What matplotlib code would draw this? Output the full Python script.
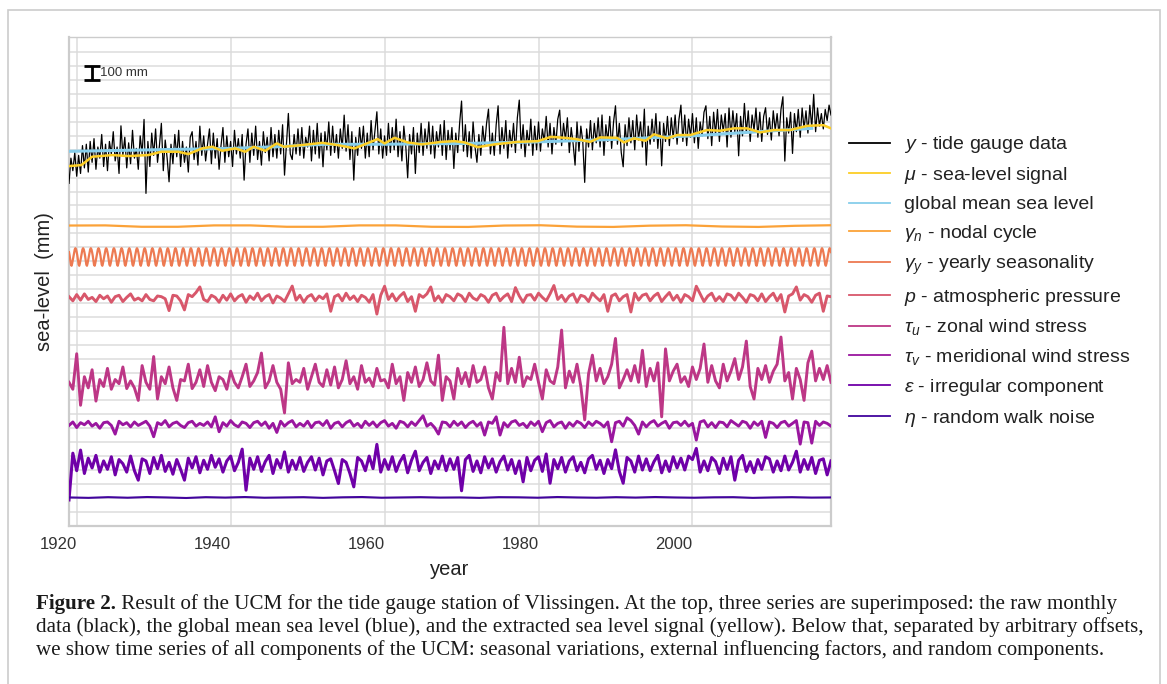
import numpy as np
import matplotlib
matplotlib.use('Agg')
import matplotlib.pyplot as plt
from matplotlib.lines import Line2D
from matplotlib.patches import Rectangle

plt.rcParams['font.family'] = ['Liberation Sans', 'DejaVu Sans']
plt.rcParams['mathtext.fontset'] = 'custom'
plt.rcParams['mathtext.rm'] = 'Liberation Sans'
plt.rcParams['mathtext.it'] = 'Liberation Sans:italic'

# ---- data (mm) ----
start_year = 1919

# y - tide gauge, quarterly, one row per year
tide_gauge = [
    -241, -60, -150, -20,   -190, -40, -170, 30,   -130, 40, -160, 60,   -90, 80, -140, 20,   -60, 110, -120, 40,
    -150, 60, -30, 130,   -80, 20, -170, 172,   -40, 90, -130, 50,   -100, 140, -60, 10,   -140, 100, -30, 218,
    -313, 60, -120, 120,   -40, 150, -90, 30,   190, -150, 70, -60,   -230, 40, -100, 110,   -50, 140, -120, 60,
    -90, 20, -160, 90,   130, -70, 60, -110,   170, -40, 100, -80,   40, 150, -100, 120,   -60, 80, -140, 30,
    160, -90, 100, -50,   60, -120, 140, -30,   80, -60, 110, -218,   40, 150, -90, 120,   -40, 170, -70, 60,
    -110, 130, -20, 90,   -80, 160, -50, 110,   -60, 140, -30, 180,   -182, 40, 261, -30,   -70, 110, -30, 150,
    -40, 160, -60, 90,   20, 170, -80, 140,   -30, 190, -60, 120,   -122, 130, 0, 200,   -40, 170, -20, 110,
    -60, 150, 10, 249,   -10, 180, -70, 130,   -218, 90, -40, 160,   10, 170, -60, 120,   -50, 210, 0, 140,
    273, -30, 150, -60,   100, -40, 190, -20,   160, 0, 220, -50,   130, -80, 170, 30,   -201, 110, -30, 160,
    -170, 120, -20, 190,   -40, 150, 10, 200,   -30, 170, -60, 130,   20, 180, -40, 210,   -70, 140, 0, 160,
    -134, 120, -20, 190,   350, -10, 180, -50,   130, -60, 200, 20,   -90, 110, -40, 170,   30, 190, 292, -30,
    120, -40, 180, 316,   -30, 160, 10, 210,   -60, 140, 20, 190,   -20, 230, 357, 10,   180, -50, 140, 30,
    220, -40, 170, 0,   200, -10, 150, 60,   240, 20, 190, -30,   160, 40, 220, 285,   30, 190, 70, 230,
    -20, 160, 40, -110,   200, -10, 170, 60,   -234, 150, 20, 210,   0, 190, 50, 230,   20, 250, -40, 180,
    60, 240, 10, 200,   316, 40, 190, -20,   -122, 180, 30, 230,   50, 210, 0, 250,   70, 200, 20, 292,
    -110, 170, 40, 220,   60, 260, 10, 200,   -115, 190, 60, 240,   30, 230, 80, 250,   40, 220, 321, 60,
    250, 30, 220, 90,   260, 50, 230, 10,   200, 100, 270, 316,   80, 240, 30, 270,   110, 290, 60, 250,
    130, 260, 20, 300,   90, 280, 130, 260,   -43, 240, 100, 333,   120, 280, 60, 250,   140, 300, 90, 270,
    60, 240, 302, 110,   230, 70, 280, 140,   260, 100, 290, 381,   -81, 230, 120, 270,   -26, 260, 130, 290,
    90, 300, 150, 280,   120, 320, 160, 398,   130, 300, 170, 260,   150, 290, 210, 321,   250,
]

# mu - sea-level signal
signal_year = [1919.0, 1920.6, 1922.0, 1924.6, 1926.7, 1929.3, 1931.0, 1933.2, 1934.5, 1936.3,
               1937.6, 1938.9, 1940.6, 1941.9, 1943.0, 1944.5, 1946.0, 1946.9, 1949.3, 1951.9,
               1953.9, 1956.1, 1959.1, 1960.0, 1961.3, 1963.0, 1964.8, 1967.4, 1969.1, 1970.4,
               1972.1, 1974.3, 1977.3, 1979.9, 1981.6, 1983.4, 1984.9, 1986.7, 1988.0, 1990.2,
               1991.1, 1992.4, 1993.9, 1995.0, 1996.7, 1998.0, 1999.7, 2001.9, 2003.6, 2005.4,
               2007.1, 2008.8, 2010.6, 2012.7, 2014.9, 2017.0, 2018.0]
signal_mm = [-117, -110, -50, -38, -45, -38, -14, -14, -31, 10,
             22, -7, 10, -14, 22, -7, 46, 22, 34, 50,
             34, 10, 77, 46, 86, 53, 39, 57, 62, 53,
             19, 39, 57, 62, 93, 86, 77, 57, 89, 86,
             53, 82, 65, 111, 82, 106, 106, 142, 137, 154,
             154, 125, 142, 142, 172, 177, 154]

# global mean sea level
gmsl_year = [1919, 1930, 1940, 1946, 1952, 1960, 1970, 1980, 1990, 2000, 2010, 2015.5]
gmsl_mm = [-11, 0, 10, 22, 39, 40, 45, 57, 75, 100, 135, 154]

# gamma_n - nodal cycle (evenly spaced over the record)
nodal_mm = [4, 5, -5, -5, 5, 5, -5, -5, 5, 5, -5, -6, 4, 6, -4, -6, 3, 6, -3, -6, 2, 6]

# gamma_y - yearly seasonality, one monthly cycle (Jan..Dec)
season_cycle = [35, 10, -25, -55, -63, -45, -20, 5, 30, 55, 63, 55]
n_years = 99

# p - atmospheric pressure, half-yearly, rows of 5 years
pressure = [
    10, -20, 25, -15, 30, -10, 5, -25, 20, -5,
    15, -30, 10, 20, -25, 5, 30, -15, 0, -20,
    25, -10, -20, 15, 10, -5, -90, 20, 15, -20,
    -85, 25, 10, 40, 80, -10, -25, 20, 5, -30,
    20, -15, 30, -20, 10, 25, -30, 15, -10, 35,
    -20, 10, 25, -35, 15, 0, -25, 30, 86, -15,
    20, -30, 10, 25, -20, 15, -5, 30, -95, 10,
    25, -20, 35, -10, 15, -25, 20, 5, -30, 25,
    -115, 20, 85, -10, 30, -20, 15, 40, -25, 10,
    -95, 25, 5, 30, 80, -20, 15, -30, 25, 10,
    -20, 30, 15, -25, 35, 0, -15, 25, 10, -30,
    20, 35, -20, 10, 30, -25, 75, 15, -30, 20,
    25, -15, 35, 5, -20, 30, 90, -10, 20, -25,
    15, 30, -30, 20, 10, -25, 35, 5, -20, 25,
    -95, 15, 30, -20, 10, 25, -100, 35, -15, 20,
    30, -20, 15, 35, -25, 10, 40, -15, 20, -30,
    25, 10, -20, 85, 30, -25, 15, 35, -20, 10,
    -25, 30, 20, -15, 35, 5, -30, 25, 15, -20,
    30, -25, 10, 35, -20, 25, -100, 15, 30, 80,
    -15, 25, 10, -30, 20, 35, -95, 15, 10,
]

# tau_u - zonal wind stress
zonal = [
    20, -30, 225, -145, 60, -20, 110, -115, 40, -10,
    120, -30, 40, 10, 130, -25, 30, -20, -110, 140,
    20, -30, 205, -100, 60, 10, 130, -20, -110, 40,
    30, 150, -25, 20, 110, -10, 140, 20, -40, 60,
    40, -30, 100, 20, -20, 60, 150, -10, 30, 90,
    230, -20, 30, 140, 20, -30, -200, 160, 10, 40,
    20, 120, -30, 60, 150, 20, -10, 110, 0, 130,
    -20, 40, 175, 10, 60, -30, 140, 20, 50, -10,
    120, 30, 40, -20, 150, 10, 60, -110, 90, 20,
    130, -10, 40, 160, 30, 0, 215, -110, 60, 30,
    -100, 120, 10, 90, -10, 140, 20, 40, 130, -20,
    -100, 90, 30, 415, 10, 120, 20, 200, -10, 60,
    40, 150, 20, -100, 110, 30, 10, 130, 395, -20,
    100, 20, 150, -10, -250, 80, 215, 30, 120, 10,
    60, 150, 335, -20, 40, 110, 30, 140, 20, 250,
    -10, 120, 30, 160, -228, 260, 30, 100, 150, 20,
    60, -10, 130, 40, 120, 295, 20, 140, 30, -20,
    150, 30, 100, 190, 40, 130, 316, -10, -100, 120,
    40, 140, 20, 100, 150, 345, 30, 90, -100, 120,
    40, -110, 160, 244, 30, 120, 40, 140, 20,
]

# tau_v - meridional wind stress
meridional = [
    -10, 15, -25, 10, -5, 20, -15, 5, -30, 10,
    15, -10, -72, 20, -5, 10, -20, 15, -10, 5,
    20, -15, -91, 10, -5, 25, -20, 5, 15, -10,
    -25, 10, 20, -15, 5, -10, 15, -20, 52, -55,
    10, -15, 25, -5, -20, 15, 5, -25, 10, 20,
    -10, 15, -30, 5, -60, 20, -15, 10, 25, -20,
    5, -15, 20, -25, 10, 15, -10, 25, -30, 5,
    15, -20, 10, 25, -15, 5, -25, 20, -10, 15,
    -20, 10, 25, -15, 5, -30, 20, 10, -20, 15,
    -10, 25, 60, -15, 5, -25, -72, 15, 10, -20,
    20, -10, 15, -25, 5, 20, -15, 10, -79, 15,
    5, 52, -79, 10, -20, 15, 25, -10, 5, -25,
    15, -10, 20, -55, 10, 25, -20, 5, 15, -30,
    10, -15, 20, 5, -25, 15, -10, 20, 5, -20,
    15, -127, 10, 20, -15, 45, 25, -10, -72, 15,
    -20, 10, 25, -15, 5, 20, -30, 10, 15, -10,
    20, -15, 5, -115, 15, 25, -20, 10, -25, 15,
    10, -20, 25, 5, -15, 20, 10, -30, 15, -10,
    20, -96, 15, 5, -25, 10, 20, -15, 5, 25,
    -144, 15, 10, -137, 20, -10, 15, 5, -15,
]

# epsilon - irregular component
irregular = [
    -250, 86, -40, 108, -60, 50, -20, 70, -50, 30,
    -30, 60, -70, 40, 10, -50, 65, -40, -108, 45,
    30, -60, 55, -25, 70, -45, 20, -65, 40, -30,
    -108, 50, -20, 60, -55, 35, -30, 70, -15, 45,
    -50, 30, 65, -40, 20, 115, -180, 50, -30, 60,
    -45, 25, 70, -60, 40, -20, 95, -50, 35, -30,
    55, -45, 20, 60, -35, 50, -70, 30, 45, -40,
    -132, 40, 20, -60, -156, 55, 30, -40, 65, -25,
    149, -50, 40, -30, 60, -45, 25, 70, -55, 35,
    100, -40, 20, 55, -60, 30, -25, 65, -40, 45,
    -30, 55, -184, 40, 70, -45, 30, -55, 60, -20,
    45, -50, 25, 65, -35, 40, -60, 30, -120, 55,
    -40, 35, 60, -45, 80, -130, 40, -25, 55, -50,
    30, 60, -40, 20, -55, 45, 70, -30, 35, -60,
    40, -25, 110, -45, -130, 55, 30, -50, 65, -35,
    45, -40, 25, 70, -55, 30, -45, 60, -20, 50,
    -35, 65, 40, 120, -50, 30, -40, 55, 25, -60,
    50, -30, 60, -108, 35, 70, -45, 25, -55, 40,
    -30, 60, 45, -50, 30, -40, 65, -35, 20, 100,
    -50, 40, -30, 55, -60, 35, 45, -70, 30,
]

# eta - random walk noise (evenly spaced over the record)
random_walk = [0, -3, 2, -2, 3, 0, -4, 2, -1, 3, -2, 0, 2, -3, 1, 3, -2, 0, 2, -1,
               0, -3, 2, 1, -2, 3, 0, -2, 2, -1, 3, 0, -2, 1, 2, -3, 0, 2, -1, 0]

# arbitrary vertical offsets of each group (mm)
offsets = {'top': 2600, 'nodal': 2052, 'yearly': 1830, 'p': 1535,
           'tu': 910, 'tv': 630, 'eps': 335, 'eta': 103}

caption_bold = 'Figure 2.'
caption = [
    ' Result of the UCM for the tide gauge station of Vlissingen. At the top, three series are superimposed: the raw monthly',
    'data (black), the global mean sea level (blue), and the extracted sea level signal (yellow). Below that, separated by arbitrary offsets,',
    'we show time series of all components of the UCM: seasonal variations, external influencing factors, and random components.',
]

# ---- figure ----
W, H = 1167, 684
fig = plt.figure(figsize=(W / 100, H / 100), dpi=100)
ax = fig.add_axes([69 / W, 1 - 525.7 / H, 762 / W, 488.4 / H])

pal = plt.cm.plasma(np.linspace(0.9, 0.1, 8))
c_mu, c_nod, c_yr, c_p, c_tu, c_tv, c_eps, c_eta = pal
c_gmsl = '#87ceeb'

t_q = start_year + 0.25 * np.arange(len(tide_gauge))
t_h = start_year + 0.5 * np.arange(len(pressure))
t_m = start_year + np.arange(12 * n_years + 1) / 12.0
season = np.append(np.tile(season_cycle, n_years), season_cycle[0])

top = offsets['top']
ax.plot(t_q, np.array(tide_gauge) + top, color='black', lw=0.9, zorder=3)
ax.plot(gmsl_year, np.array(gmsl_mm) + top, color=c_gmsl, lw=2.2, zorder=4)
ax.plot(signal_year, np.array(signal_mm) + top, color=c_mu, lw=1.8, zorder=5)
ax.plot(np.linspace(1919, 2018, len(nodal_mm)), np.array(nodal_mm) + offsets['nodal'],
        color=c_nod, lw=1.6, zorder=3)
ax.plot(t_m, season + offsets['yearly'], color=c_yr, lw=1.6, zorder=3)
ax.plot(t_h, np.array(pressure) + offsets['p'], color=c_p, lw=2.1, zorder=3)
ax.plot(start_year + 0.5 * np.arange(len(zonal)), np.array(zonal) + offsets['tu'],
        color=c_tu, lw=2.1, zorder=3)
ax.plot(start_year + 0.5 * np.arange(len(meridional)), np.array(meridional) + offsets['tv'],
        color=c_tv, lw=2.1, zorder=3)
ax.plot(start_year + 0.5 * np.arange(len(irregular)), np.array(irregular) + offsets['eps'],
        color=c_eps, lw=2.2, zorder=3)
ax.plot(np.linspace(1919, 2018, len(random_walk)), np.array(random_walk) + offsets['eta'],
        color=c_eta, lw=1.5, zorder=3)

# 100 mm scale bar
ax.errorbar([1922.0], [3150], yerr=[50], color='black', elinewidth=2, capsize=5.5,
            capthick=2, zorder=6)
ax.text(1923.0, 3150, '100 mm', fontsize=9.5, color='#333333', va='center', ha='left')

ax.set_xlim(1919, 2018)
ax.set_ylim(-100, 3408)
ax.set_xticks([1920, 1940, 1960, 1980, 2000])
ax.set_yticks(np.arange(0, 3301, 100))
ax.tick_params(axis='y', length=0, labelleft=False)
ax.tick_params(axis='x', length=0, pad=8, labelsize=12, colors='#333333')
for lab in ax.get_xticklabels():
    lab.set_ha('right')
ax.grid(True, color='#dcdcdc', lw=1.1)
ax.set_axisbelow(True)
for side, sp in ax.spines.items():
    sp.set_color('#cccccc')
    sp.set_linewidth(1.6 if side in ('left', 'bottom', 'right') else 1.0)

ax.set_xlabel('year', fontsize=14.5, color='#222222', labelpad=6)
ax.set_ylabel('sea-level  (mm)', fontsize=14.5, color='#222222', labelpad=11)

labels = [r'$y$ - tide gauge data', r'$\mu$ - sea-level signal', 'global mean sea level',
          r'$\gamma_n$ - nodal cycle', r'$\gamma_y$ - yearly seasonality',
          r'$p$ - atmospheric pressure', r'$\tau_u$ - zonal wind stress',
          r'$\tau_v$ - meridional wind stress', r'$\varepsilon$ - irregular component',
          r'$\eta$ - random walk noise']
cols = ['black', c_mu, c_gmsl, c_nod, c_yr, c_p, c_tu, c_tv, c_eps, c_eta]
handles = [Line2D([], [], color=c, lw=1.3) for c in cols]
leg = ax.legend(handles, labels, loc='center left', bbox_to_anchor=(1.013, 0.5),
                borderaxespad=0, frameon=False, fontsize=14, handlelength=2.1,
                handletextpad=0.75, labelspacing=0.5)
for t in leg.get_texts():
    t.set_color('#222222')

# outer frame
fig.add_artist(Rectangle((8 / W, -0.05), 1152 / W, 1.05 - 10 / H, transform=fig.transFigure,
                         fill=False, edgecolor='#cccccc', lw=1.2))

# caption
cap_font = ['Liberation Serif', 'DejaVu Serif']
r = fig.canvas.get_renderer()
probe = fig.text(0, 0, caption[1], family=cap_font, fontsize=14)
fs = 14 * 1112 / probe.get_window_extent(r).width
probe.remove()

line_base = [609, 632, 655]
tb = fig.text(36 / W, 1 - line_base[0] / H, caption_bold, family=cap_font, fontsize=fs,
              fontweight='bold', va='baseline', color='#1a1a1a')
wb = tb.get_window_extent(r).width
for k, line in enumerate(caption):
    x = 36 + (wb if k == 0 else 0)
    fig.text(x / W, 1 - line_base[k] / H, line, family=cap_font, fontsize=fs,
             va='baseline', ha='left', color='#1a1a1a')

fig.savefig('out.png', dpi=100)
